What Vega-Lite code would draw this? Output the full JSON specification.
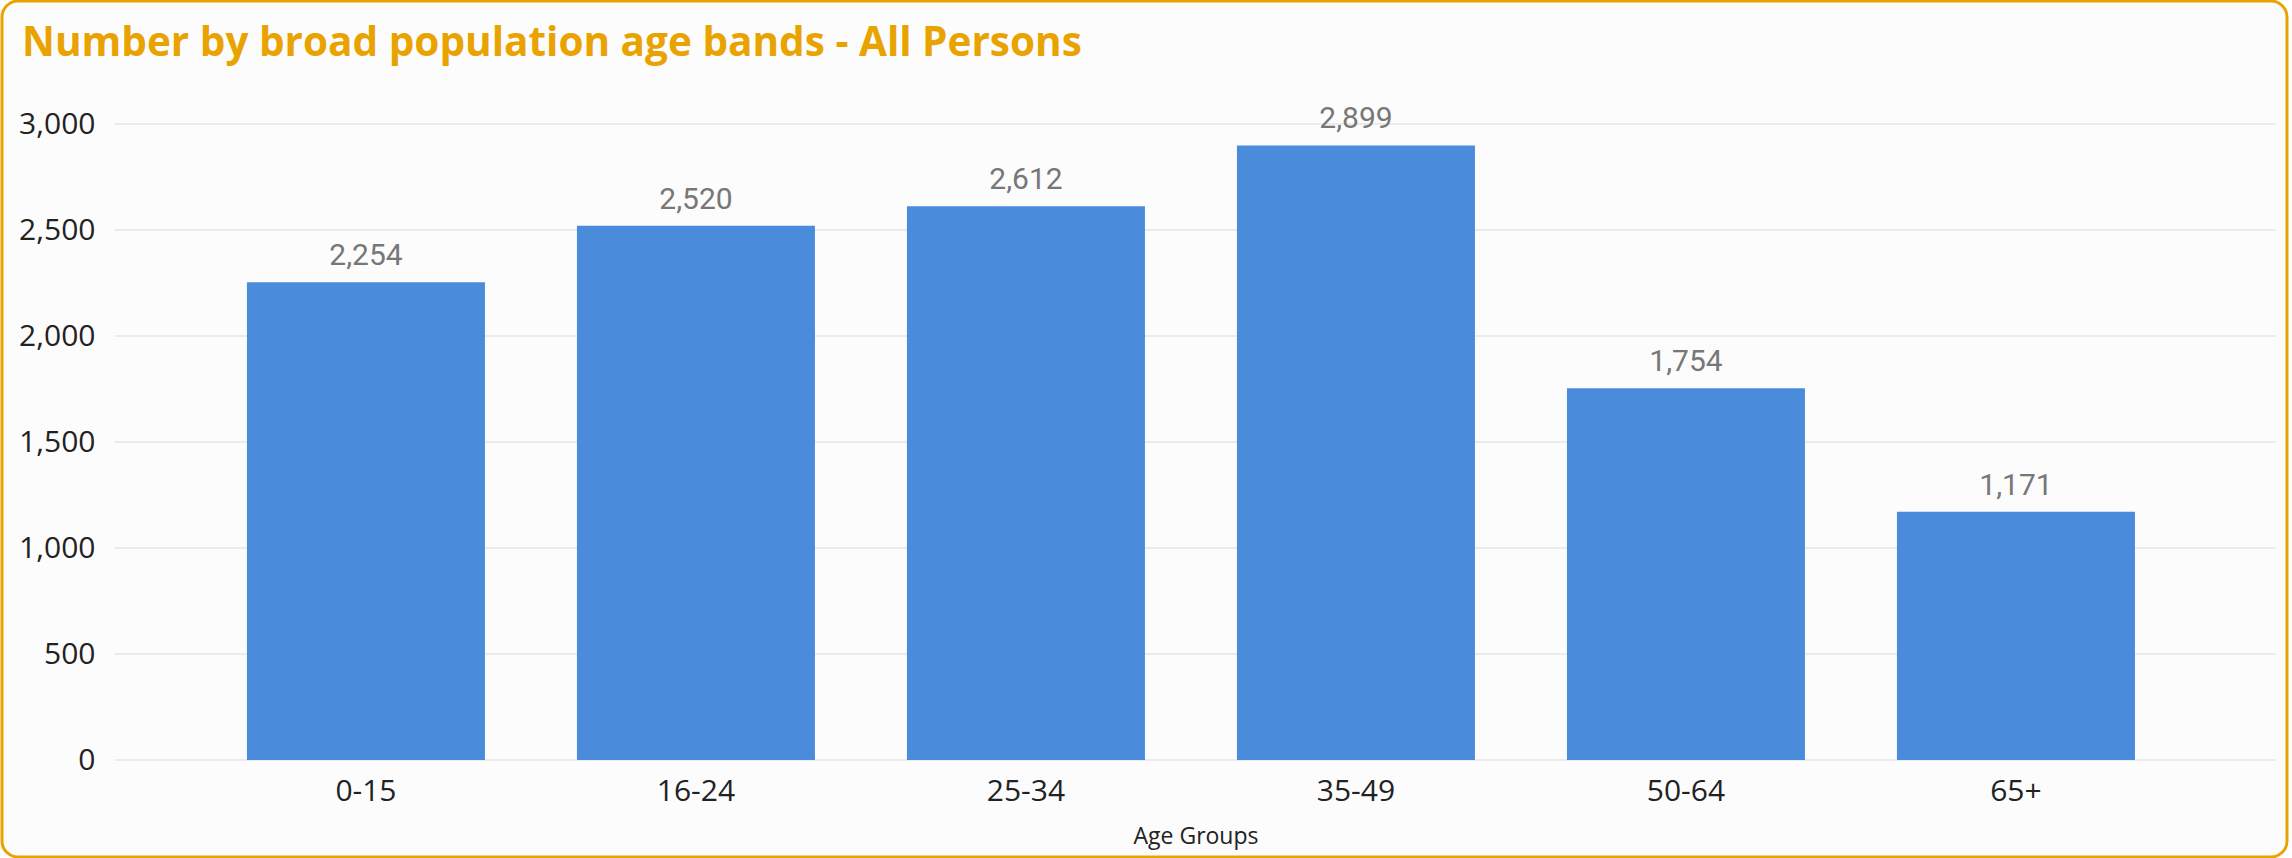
{
  "$schema": "https://vega.github.io/schema/vega-lite/v6.json",
  "width": 2292,
  "height": 858,
  "autosize": {"type": "fit", "contains": "padding"},
  "padding": {"left": 2, "top": 1, "right": 5, "bottom": 1},
  "background": "#FFFFFF",
  "config": {
    "view": {"stroke": "#E9A300", "strokeWidth": 3, "cornerRadius": 16, "fill": "#FCFCFC"},
    "axisX": {
      "orient": "bottom",
      "offset": -97,
      "domain": false,
      "ticks": false,
      "grid": false,
      "labelAngle": 0,
      "labelPadding": 16,
      "labelFont": "Open Sans",
      "labelFontSize": 30,
      "labelColor": "#222222",
      "titleFont": "Open Sans",
      "titleFontSize": 23,
      "titleFontWeight": "normal",
      "titleColor": "#222222",
      "titlePadding": 19,
      "titleX": 1193.5
    },
    "axisY": {
      "orient": "left",
      "offset": -95,
      "domain": false,
      "ticks": false,
      "grid": false,
      "labelPadding": 2,
      "labelFont": "Open Sans",
      "labelFontSize": 30,
      "labelColor": "#222222"
    }
  },
  "title": {
    "text": "Number by broad population age bands - All Persons",
    "anchor": "start",
    "frame": "group",
    "baseline": "alphabetic",
    "offset": -95,
    "dx": 20,
    "font": "Open Sans",
    "fontSize": 40.5,
    "fontWeight": "bold",
    "color": "#E9A300"
  },
  "datasets": {
    "bars": [
      {"age": "0-15", "n": 2254},
      {"age": "16-24", "n": 2520},
      {"age": "25-34", "n": 2612},
      {"age": "35-49", "n": 2899},
      {"age": "50-64", "n": 1754},
      {"age": "65+", "n": 1171}
    ],
    "grid": [
      {"n": 0}, {"n": 500}, {"n": 1000}, {"n": 1500}, {"n": 2000}, {"n": 2500}, {"n": 3000}
    ]
  },
  "encoding": {
    "x": {
      "field": "age",
      "type": "nominal",
      "sort": null,
      "scale": {
        "domain": ["0-15", "16-24", "25-34", "35-49", "50-64", "65+"],
        "paddingInner": 0.2788,
        "paddingOuter": 0.6015,
        "align": 0.617
      },
      "axis": {"title": "Age Groups"}
    },
    "y": {
      "field": "n",
      "type": "quantitative",
      "scale": {"domain": [-457.5, 3580.2], "nice": false, "zero": false},
      "axis": {
        "values": [0, 500, 1000, 1500, 2000, 2500, 3000],
        "format": ",d",
        "title": null
      }
    }
  },
  "layer": [
    {
      "data": {"name": "grid"},
      "mark": {"type": "rule", "color": "#EBEBEB", "strokeWidth": 2},
      "encoding": {
        "x": {"datum": "0-15", "bandPosition": -0.5546, "axis": {"title": "Age Groups"}},
        "x2": {"datum": "65+", "bandPosition": 1.592}
      }
    },
    {
      "data": {"name": "bars"},
      "mark": {"type": "bar", "color": "#4A8CDB"},
      "encoding": {
        "y2": {"datum": 0}
      }
    },
    {
      "data": {"name": "bars"},
      "mark": {
        "type": "text",
        "baseline": "alphabetic",
        "dy": -17,
        "font": "Roboto",
        "fontSize": 30,
        "color": "#777777"
      },
      "encoding": {
        "text": {"field": "n", "type": "quantitative", "format": ","}
      }
    }
  ]
}
